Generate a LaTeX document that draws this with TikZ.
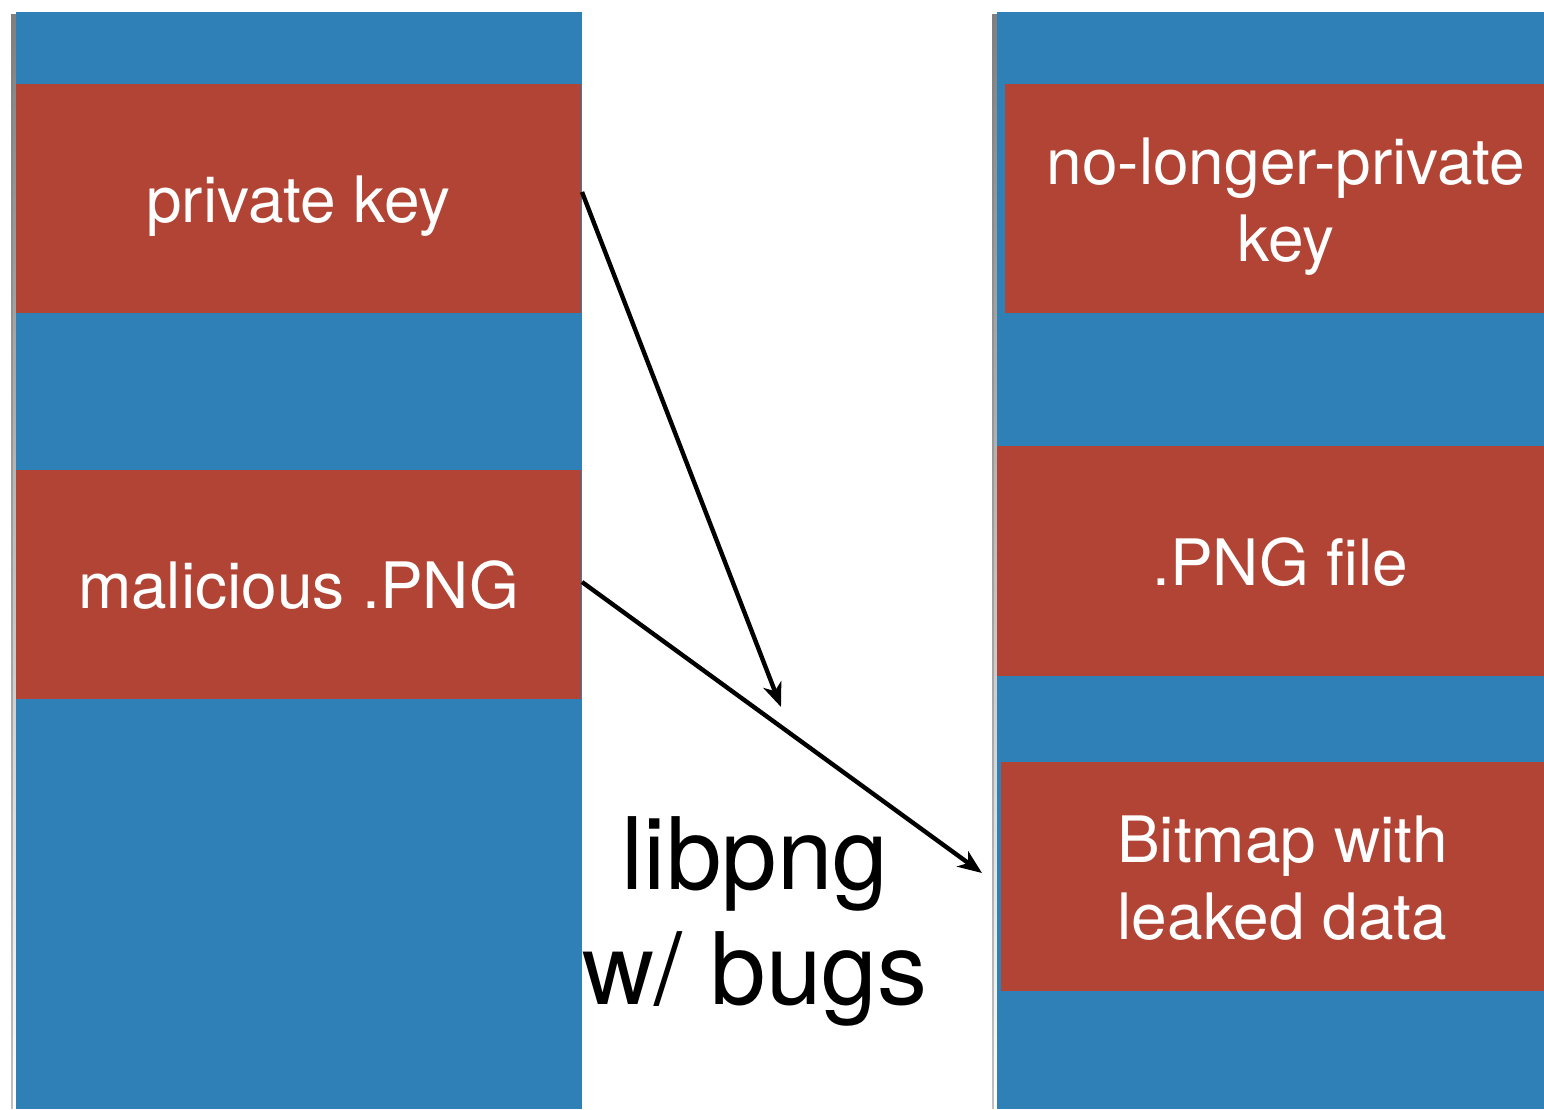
\documentclass[tikz,border=0pt]{standalone}
\usepackage{fontspec}
\setmainfont{TeX Gyre Heros}
\usetikzlibrary{arrows.meta}
\definecolor{colblue}{RGB}{47,128,183}
\definecolor{boxred}{RGB}{177,68,52}
\definecolor{shade}{RGB}{215,215,215}
\newcommand\boxtxt[1]{\raisebox{-9pt}[\height][\depth]{\begin{tabular}{@{}c@{}}#1\end{tabular}}}
\begin{document}
\begin{tikzpicture}[x=1pt,y=-1pt,
  column/.style={fill=colblue,draw=none},
  redbox/.style={fill=boxred,draw=none,inner sep=0pt,outer sep=0pt,anchor=north west,
    minimum height=229pt,text=white,align=center,
    font=\fontsize{64}{77}\selectfont},
  link/.style={draw=black,line width=4.4pt,-{Stealth[length=24pt,width=19pt,inset=7pt]}},
  biglabel/.style={align=center,font=\fontsize{100}{115}\selectfont,text=black}]
\useasboundingbox (0,0) rectangle (1544,1109);
\fill[white] (0,0) rectangle (1544,1109);
% shadows
\fill[shade,opacity=0.5] (11,14) rectangle (16,1109);
\fill[shade] (13,14) rectangle (16,1109);
\fill[shade,opacity=0.5] (992,14) rectangle (997,1109);
\fill[shade] (994,14) rectangle (997,1109);
% columns
\fill[column] (16,12) rectangle (582,1109);
\fill[column] (997,12) rectangle (1564,1109);
% left boxes
\node[redbox,minimum width=565pt] (pk) at (16,84) {\boxtxt{private key}};
\node[redbox,minimum width=565pt] (mal) at (16,470) {\boxtxt{malicious .PNG}};
% right boxes
\node[redbox,minimum width=562pt] (nlpk) at (1005,84) {\boxtxt{no-longer-private\\key}};
\node[redbox,minimum width=567pt,minimum height=230pt] (png) at (997,446) {\boxtxt{.PNG file}};
\node[redbox,minimum width=563pt] (bmp) at (1001,762) {\boxtxt{Bitmap with\\leaked data}};
% label
\node[biglabel] (lib) at (755,921) {libpng\\w/ bugs};
% arrows
\coordinate (pkout) at (582,192);
\coordinate (malout) at (582,582);
\coordinate (tip1) at (781,707);
\coordinate (tip2) at (982,873);
\draw[link] (pkout) -- (tip1);
\draw[link] (malout) -- (tip2);
\end{tikzpicture}
\end{document}
